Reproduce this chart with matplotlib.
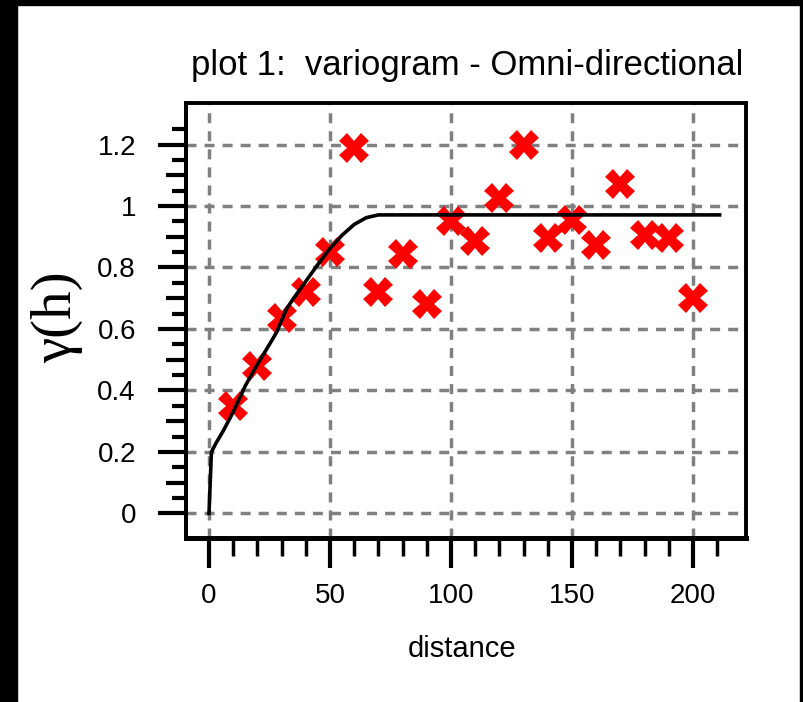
import matplotlib
matplotlib.use("Agg")
import matplotlib.pyplot as plt
from matplotlib.patches import Rectangle

# ---- data ----
lag_distance = [10, 20, 30, 40, 50, 60, 70, 80, 90, 100, 110, 120, 130, 140, 150,
                160, 170, 180, 190, 200]
semivariance = [0.35, 0.48, 0.635, 0.72, 0.85, 1.19, 0.72, 0.845, 0.68, 0.95, 0.885,
                1.025, 1.20, 0.895, 0.955, 0.873, 1.07, 0.905, 0.895, 0.70]

model_h = [0, 1, 3, 6, 10, 15, 20, 25, 28, 32, 35, 40, 45, 50, 55, 60, 65, 70, 211]
model_gamma = [0, 0.20, 0.23, 0.27, 0.33, 0.415, 0.485, 0.55, 0.59, 0.665, 0.70,
               0.755, 0.81, 0.862, 0.905, 0.94, 0.962, 0.971, 0.971]

x_major = [0, 50, 100, 150, 200]
x_labels = ["0", "50", "100", "150", "200"]
x_minor = [10, 20, 30, 40, 60, 70, 80, 90, 110, 120, 130, 140, 160, 170, 180, 190, 210]
y_major = [0, 0.2, 0.4, 0.6, 0.8, 1.0, 1.2]
y_labels = ["0", "0.2", "0.4", "0.6", "0.8", "1", "1.2"]
y_minor_short = [0.05, 0.15, 0.25, 0.35, 0.45, 0.55, 0.65, 0.75, 0.85, 0.95, 1.05, 1.15, 1.25]
y_minor_mid = [0.1, 0.3, 0.5, 0.7, 0.9, 1.1]

title_text = "plot 1:  variogram - Omni-directional"
xlabel_text = "distance"
ylabel_text = "\u03b3(h)"

# ---- style ----
plt.rcParams['lines.scale_dashes'] = False
sans = ['Liberation Sans', 'DejaVu Sans']
serif = ['Liberation Serif', 'DejaVu Serif']

W, H = 804, 702
fig = plt.figure(figsize=(W / 100, H / 100), dpi=100)
fig.patch.set_facecolor('white')

# black frame bands
fig.add_artist(Rectangle((0, 0), 17 / W, 1, transform=fig.transFigure, color='black', zorder=10))
fig.add_artist(Rectangle((0, 1 - 5 / H), 1, 5 / H, transform=fig.transFigure, color='black', zorder=10))
fig.add_artist(Rectangle((1 - 4 / W, 0), 4 / W, 1, transform=fig.transFigure, color='black', zorder=10))

left, right, top, bottom = 186, 746, 103, 538
ax = fig.add_axes([left / W, 1 - bottom / H, (right - left) / W, (bottom - top) / H])
ax.set_xlim(-9.5, 221.9)
ax.set_ylim(-0.08, 1.335)

# grid
for xv in x_major:
    ax.axvline(xv, color='#808080', lw=2.5, dashes=[7.2, 5.8], zorder=1)
for yv in y_major:
    ax.axhline(yv, color='#808080', lw=2.5, dashes=[7.2, 5.8], zorder=1)

# data
ax.plot(lag_distance, semivariance, linestyle='none', marker='X', ms=21,
        color='#ff0000', markeredgewidth=0, zorder=3)
ax.plot(model_h, model_gamma, color='black', lw=2.6, zorder=4)

# spines
for s in ax.spines.values():
    s.set_linewidth(2.8)
    s.set_color('black')
ax.spines['bottom'].set_linewidth(3.6)

# ticks
ax.set_xticks(x_major)
ax.set_xticklabels(x_labels)
ax.set_xticks(x_minor, minor=True)
ax.set_yticks(y_major)
ax.set_yticklabels(y_labels)
ax.set_yticks(y_minor_short, minor=True)

ax.tick_params(axis='x', which='major', direction='out', length=21.5, width=3.0, pad=11)
ax.tick_params(axis='x', which='minor', direction='out', length=13, width=2.5)
ax.tick_params(axis='y', which='major', direction='out', length=20, width=3.0, pad=16)
ax.tick_params(axis='y', which='minor', direction='out', length=10, width=3.0)
for lab in ax.get_xticklabels() + ax.get_yticklabels():
    lab.set_family(sans)
    lab.set_fontsize(20)

sec = ax.secondary_yaxis('left')
sec.set_yticks(y_minor_mid)
sec.set_yticklabels([])
sec.tick_params(axis='y', which='major', direction='out', length=14.5, width=3.0)
sec.spines['left'].set_linewidth(2.8)

# texts
fig.text(467 / W, 1 - 65 / H, title_text, ha='center', va='center',
         fontsize=25, family=sans)
fig.text(462 / W, 1 - 649 / H, xlabel_text, ha='center', va='center',
         fontsize=21, family=sans)
fig.text(57 / W, 1 - 317 / H, ylabel_text, ha='center', va='center',
         rotation=90, fontsize=41, family=serif)

fig.savefig('out.png', dpi=100, facecolor='white')
